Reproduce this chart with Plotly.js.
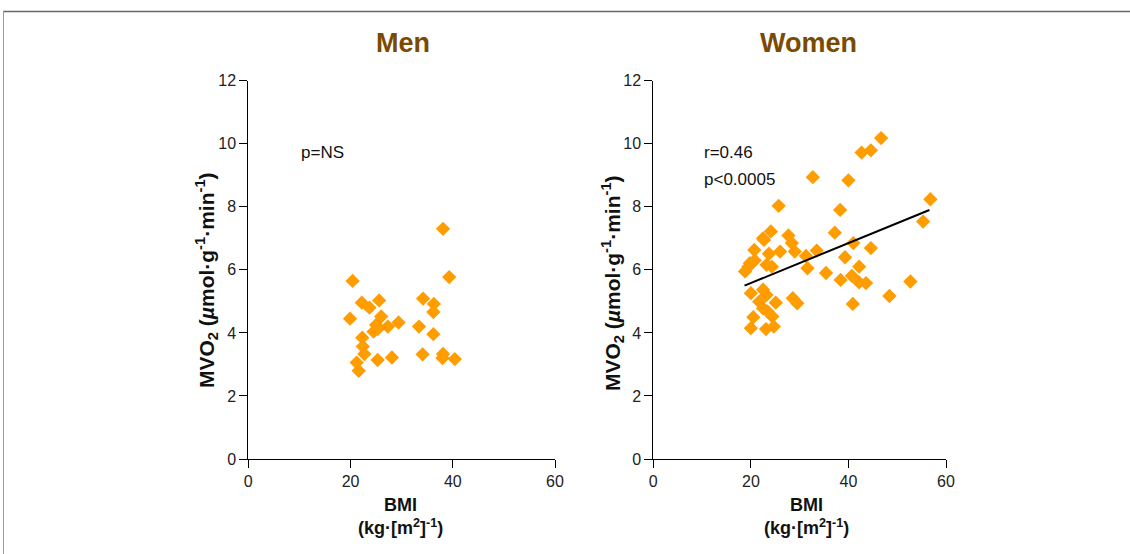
<!DOCTYPE html>
<html>
<head>
<meta charset="utf-8">
<script src="https://cdn.plot.ly/plotly-3.0.1.min.js"></script>
<style>html,body{margin:0;padding:0;background:#fff;}#chart{width:1130px;height:554px;}</style>
</head>
<body>
<div id="chart"></div>
<script>
// ---- Data ----
const menBMI  = [38.1, 39.3, 20.4, 22.2, 25.6, 23.7, 34.2, 36.3, 36.2, 19.9, 26.0, 25.0, 27.3, 29.4, 24.5, 25.3, 33.4, 36.2, 22.3, 22.4, 22.7, 25.3, 28.1, 34.1, 38.1, 38.0, 40.4, 21.2, 21.6];
const menMVO2 = [7.30, 5.77, 5.65, 4.96, 5.03, 4.80, 5.09, 4.92, 4.66, 4.45, 4.52, 4.25, 4.20, 4.33, 4.04, 4.12, 4.20, 3.96, 3.85, 3.57, 3.33, 3.14, 3.22, 3.32, 3.33, 3.20, 3.17, 3.06, 2.80];

const womenBMI  = [46.7, 44.6, 42.7, 32.7, 40.0, 56.8, 25.7, 38.3, 55.3, 24.1, 37.2, 27.7, 22.5, 22.7, 28.4, 41.0, 44.6, 20.7, 29.0, 26.0, 33.5, 23.7, 31.3, 39.3, 20.8, 19.8, 19.5, 18.8, 23.2, 24.3, 31.6, 42.2, 35.4, 40.7, 38.4, 42.2, 43.6, 52.7, 22.5, 20.0, 23.2, 28.6, 29.5, 48.4, 40.9, 25.1, 21.7, 22.5, 23.4, 24.4, 20.5, 20.0, 23.1, 24.7];
const womenMVO2 = [10.18, 9.79, 9.72, 8.94, 8.84, 8.24, 8.03, 7.90, 7.53, 7.22, 7.18, 7.09, 7.00, 6.95, 6.85, 6.85, 6.69, 6.63, 6.58, 6.58, 6.61, 6.51, 6.44, 6.40, 6.30, 6.21, 6.10, 5.95, 6.16, 6.10, 6.05, 6.10, 5.90, 5.81, 5.68, 5.60, 5.58, 5.63, 5.37, 5.26, 5.20, 5.10, 4.94, 5.17, 4.92, 4.96, 4.99, 4.78, 4.68, 4.52, 4.50, 4.15, 4.12, 4.20];

// regression line for women (end points)
const fitBMI  = [18.7, 56.6];
const fitMVO2 = [5.50, 7.90];

const xTicks = [0, 20, 40, 60];
const yTicks = [0, 2, 4, 6, 8, 10, 12];
const panelTitles = ["Men", "Women"];
const statsMen = ["p=NS"];
const statsWomen = ["r=0.46", "p<0.0005"];

// ---- Styling ----
const W = 1130, H = 554;
const px = v => v / W, py = v => 1 - v / H;
const orange = "#FF9C00";
const tickFont = {family: "Liberation Sans, Arial, sans-serif", size: 16, color: "#222"};

const marker = {symbol: "diamond", size: 11, color: orange, line: {width: 0}};

const traces = [
  {x: menBMI, y: menMVO2, type: "scatter", mode: "markers", marker: marker, xaxis: "x", yaxis: "y", hoverinfo: "x+y"},
  {x: womenBMI, y: womenMVO2, type: "scatter", mode: "markers", marker: marker, xaxis: "x2", yaxis: "y2", hoverinfo: "x+y"},
  {x: fitBMI, y: fitMVO2, type: "scatter", mode: "lines", line: {color: "#000", width: 2}, xaxis: "x2", yaxis: "y2", hoverinfo: "skip"}
];

function xax(domain, anchor) {
  return {domain: domain, anchor: anchor, range: [0, 60], tickvals: xTicks, ticktext: xTicks.map(String),
    showline: true, linecolor: "#000", linewidth: 1, ticks: "outside", ticklen: 8, tickcolor: "#000",
    showgrid: false, zeroline: false, tickfont: tickFont, fixedrange: true};
}
function yax(domain, anchor) {
  return {domain: domain, anchor: anchor, range: [0, 12], tickvals: yTicks, ticktext: yTicks.map(String),
    showline: true, linecolor: "#000", linewidth: 1, ticks: "outside", ticklen: 8, tickcolor: "#000",
    showgrid: false, zeroline: false, tickfont: tickFont, fixedrange: true};
}

const yDom = [py(459), py(80.7)];
const titleFont = {family: "Liberation Sans, Arial, sans-serif", size: 27, color: "#7A4A00"};
const yTitleFont = {family: "Liberation Sans, Arial, sans-serif", size: 21, color: "#111"};
const xTitleFont = {family: "Liberation Sans, Arial, sans-serif", size: 18, color: "#111"};
const statFont = {family: "Liberation Sans, Arial, sans-serif", size: 17, color: "#111"};
const yTitle = "<b>MVO<sub>2</sub> (<i>µ</i>mol·g<sup>-1</sup>·min<sup>-1</sup>)</b>";
const xTitle = "<b>BMI<br>(kg·[m<sup>2</sup>]<sup>-1</sup>)</b>";

const annotations = [
  {text: "<b>" + panelTitles[0] + "</b>", x: px(403), y: py(43), xref: "paper", yref: "paper", showarrow: false, font: titleFont, xanchor: "center", yanchor: "middle"},
  {text: "<b>" + panelTitles[1] + "</b>", x: px(808), y: py(43), xref: "paper", yref: "paper", showarrow: false, font: titleFont, xanchor: "center", yanchor: "middle"},
  {text: yTitle, x: px(206), y: py(280), xref: "paper", yref: "paper", showarrow: false, font: yTitleFont, textangle: -90, xanchor: "center", yanchor: "middle"},
  {text: yTitle, x: px(612), y: py(283), xref: "paper", yref: "paper", showarrow: false, font: yTitleFont, textangle: -90, xanchor: "center", yanchor: "middle"},
  {text: xTitle, x: px(400), y: py(516), xref: "paper", yref: "paper", showarrow: false, font: xTitleFont, xanchor: "center", yanchor: "middle"},
  {text: xTitle, x: px(806), y: py(516), xref: "paper", yref: "paper", showarrow: false, font: xTitleFont, xanchor: "center", yanchor: "middle"},
  {text: statsMen[0], x: px(299), y: py(152), xref: "paper", yref: "paper", showarrow: false, font: statFont, xanchor: "left", yanchor: "middle"},
  {text: statsWomen[0], x: px(702), y: py(152), xref: "paper", yref: "paper", showarrow: false, font: statFont, xanchor: "left", yanchor: "middle"},
  {text: statsWomen[1], x: px(702), y: py(180), xref: "paper", yref: "paper", showarrow: false, font: statFont, xanchor: "left", yanchor: "middle"}
];

const shapes = [
  {type: "line", xref: "paper", yref: "paper", x0: px(3), x1: px(1130), y0: py(11.5), y1: py(11.5), line: {color: "#666", width: 1.5}},
  {type: "line", xref: "paper", yref: "paper", x0: px(3.5), x1: px(3.5), y0: py(11), y1: py(554), line: {color: "#999", width: 1}}
];

const layout = {
  width: W, height: H,
  margin: {l: 0, r: 0, t: 0, b: 0},
  paper_bgcolor: "#fff", plot_bgcolor: "rgba(0,0,0,0)",
  showlegend: false,
  xaxis: xax([px(248.3), px(555)], "y"),
  yaxis: yax(yDom, "x"),
  xaxis2: xax([px(653.3), px(946)], "y2"),
  yaxis2: yax(yDom, "x2"),
  annotations: annotations,
  shapes: shapes
};

Plotly.newPlot("chart", traces, layout, {displayModeBar: false, staticPlot: true});
</script>
</body>
</html>
